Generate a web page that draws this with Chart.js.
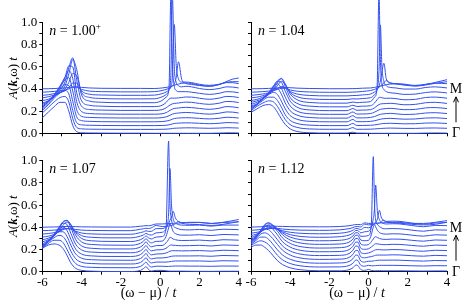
<!DOCTYPE html>
<html>
<head>
<meta charset="utf-8">
<script src="https://cdn.jsdelivr.net/npm/chart.js@4/dist/chart.umd.min.js"></script>
<style>
  body { margin: 0; background: #fff; }
  #wrap { position: relative; width: 463px; height: 304px; }
  canvas { position: absolute; left: 0; top: 0; }
</style>
</head>
<body>
<div id="wrap">
  <canvas id="c1" width="463" height="304"></canvas>
  <canvas id="c2" width="463" height="304"></canvas>
  <canvas id="c3" width="463" height="304"></canvas>
  <canvas id="c4" width="463" height="304"></canvas>
</div>
<script>
// frequency grids (omega - mu)/t for each filling
const w100 = [-6,-5.7,-5.4,-5.1,-4.85,-4.65,-4.45,-4.25,-4,-3.6,-3,-2,-1,
  -0.3,0.1,0.3,0.45,0.55,0.62,0.72,0.82,0.93,1.1,1.3,1.6,2,2.5,3,3.4,3.7,4];
const w104 = [-6,-5.7,-5.4,-5.1,-4.85,-4.65,-4.45,-4.25,-4,-3.6,-3,-2,
  -1.1,-0.8,-0.6,-0.3,
  0.1,0.3,0.43,0.53,0.6,0.68,0.78,0.9,1.1,1.4,1.8,2.4,2.9,3.4,4];
const w107 = [-6,-5.7,-5.4,-5.15,-4.95,-4.75,-4.55,-4.3,-4,-3.5,-2.5,-1.5,
  -1,-0.85,-0.72,-0.6,-0.45,-0.2,
  0.1,0.3,0.43,0.5,0.58,0.66,0.78,0.92,1.1,1.5,2,2.6,3.2,4];
const w112 = [-6,-5.75,-5.5,-5.3,-5.1,-4.9,-4.65,-4.4,-4,-3.5,-2.5,-1.5,
  -1,-0.8,-0.65,-0.55,-0.4,-0.2,
  0,0.14,0.24,0.3,0.36,0.45,0.55,0.64,0.74,0.9,1.2,1.6,2.2,2.8,3.4,4];

// A(k,w)t, one row per k from Gamma (first) to M (last)
const spec100 = [
  [0.14,0.19,0.24,0.28,0.28,0.2,0.07,0.015,0.005,0.003,0.002,0.001,0.001, 0,0,0,0,0,0,0,0,0,0,0,0,0,0,0.002,0.004,0.004,0.003],
  [0.15,0.2,0.25,0.29,0.3,0.25,0.1,0.02,0.007,0.004,0.003,0.002,0.002, 0.002,0.003,0.004,0.006,0.008,0.01,0.012,0.013,0.014,0.015,0.016,0.016,0.014,0.012,0.014,0.017,0.016,0.014],
  [0.14,0.19,0.25,0.3,0.32,0.29,0.14,0.03,0.01,0.006,0.004,0.003,0.003, 0.003,0.004,0.006,0.01,0.014,0.018,0.022,0.024,0.025,0.027,0.028,0.027,0.024,0.02,0.024,0.03,0.029,0.026],
  [0.12,0.17,0.23,0.3,0.34,0.33,0.19,0.05,0.015,0.008,0.005,0.004,0.004, 0.004,0.006,0.01,0.016,0.022,0.028,0.033,0.036,0.038,0.04,0.041,0.04,0.035,0.03,0.036,0.045,0.043,0.038],
  [0.1,0.15,0.21,0.29,0.35,0.37,0.25,0.08,0.02,0.01,0.007,0.005,0.005, 0.005,0.008,0.015,0.025,0.034,0.04,0.045,0.048,0.05,0.053,0.055,0.053,0.046,0.04,0.048,0.06,0.058,0.05],
  [0.08,0.12,0.18,0.26,0.34,0.4,0.33,0.12,0.03,0.012,0.008,0.006,0.006, 0.006,0.01,0.02,0.035,0.045,0.052,0.058,0.06,0.062,0.066,0.068,0.066,0.058,0.05,0.06,0.075,0.072,0.064],
  [0.06,0.09,0.14,0.21,0.3,0.41,0.4,0.17,0.045,0.015,0.01,0.007,0.007, 0.007,0.014,0.03,0.05,0.06,0.066,0.07,0.072,0.074,0.078,0.082,0.08,0.07,0.062,0.072,0.088,0.086,0.078],
  [0.04,0.06,0.1,0.15,0.23,0.36,0.45,0.25,0.06,0.02,0.012,0.008,0.008, 0.008,0.02,0.045,0.075,0.085,0.085,0.084,0.085,0.087,0.09,0.095,0.094,0.084,0.074,0.085,0.1,0.098,0.09],
  [0.03,0.04,0.07,0.1,0.16,0.27,0.4,0.31,0.08,0.025,0.014,0.01,0.01, 0.01,0.03,0.06,0.14,1.0,0.4,0.16,0.12,0.11,0.11,0.11,0.105,0.095,0.085,0.095,0.11,0.108,0.1],
  [0.02,0.03,0.045,0.065,0.1,0.16,0.24,0.22,0.07,0.025,0.015,0.011,0.011, 0.012,0.03,0.05,0.09,0.25,0.95,0.3,0.16,0.13,0.12,0.125,0.12,0.105,0.095,0.105,0.12,0.118,0.11],
  [0.01,0.015,0.025,0.035,0.05,0.08,0.12,0.12,0.05,0.02,0.013,0.01,0.01, 0.012,0.025,0.04,0.06,0.09,0.17,0.65,0.28,0.16,0.13,0.13,0.125,0.11,0.1,0.11,0.125,0.124,0.115],
  [0.005,0.008,0.012,0.017,0.025,0.035,0.05,0.05,0.03,0.015,0.01,0.008,0.008, 0.01,0.02,0.03,0.04,0.05,0.06,0.08,0.14,0.28,0.12,0.085,0.075,0.065,0.06,0.075,0.095,0.1,0.1],
  [0.002,0.003,0.005,0.007,0.01,0.014,0.02,0.02,0.015,0.01,0.007,0.006,0.006, 0.005,0.01,0.015,0.02,0.025,0.03,0.035,0.04,0.045,0.052,0.055,0.05,0.035,0.025,0.04,0.07,0.09,0.1]
];
const spec104 = [
  [0.19,0.22,0.25,0.26,0.24,0.19,0.13,0.08,0.04,0.015,0.005,0.002, 0.002,0.01,0.002,0.002, 0,0,0,0,0,0,0,0,0,0,0,0,0.002,0.003,0.002],
  [0.17,0.21,0.24,0.26,0.25,0.21,0.15,0.09,0.045,0.018,0.006,0.003, 0.003,0.018,0.003,0.003, 0.004,0.006,0.008,0.009,0.01,0.011,0.012,0.013,0.014,0.013,0.011,0.011,0.014,0.015,0.012],
  [0.15,0.19,0.23,0.26,0.26,0.23,0.17,0.1,0.05,0.02,0.007,0.003, 0.003,0.022,0.004,0.004, 0.006,0.009,0.013,0.016,0.018,0.02,0.022,0.023,0.024,0.022,0.019,0.02,0.026,0.027,0.022],
  [0.12,0.16,0.21,0.25,0.27,0.25,0.19,0.12,0.06,0.024,0.008,0.004, 0.004,0.025,0.005,0.005, 0.008,0.013,0.019,0.024,0.027,0.03,0.032,0.034,0.035,0.032,0.028,0.03,0.038,0.04,0.033],
  [0.1,0.13,0.18,0.23,0.27,0.27,0.22,0.14,0.07,0.028,0.009,0.004, 0.004,0.026,0.006,0.006, 0.01,0.018,0.027,0.034,0.038,0.041,0.043,0.045,0.047,0.043,0.037,0.04,0.05,0.053,0.045],
  [0.08,0.1,0.15,0.2,0.26,0.28,0.24,0.16,0.08,0.03,0.01,0.005, 0.005,0.026,0.007,0.008, 0.012,0.024,0.036,0.045,0.05,0.053,0.055,0.057,0.059,0.055,0.047,0.05,0.063,0.066,0.057],
  [0.06,0.08,0.11,0.16,0.23,0.27,0.26,0.18,0.09,0.032,0.011,0.005, 0.005,0.024,0.008,0.01, 0.014,0.03,0.048,0.06,0.065,0.067,0.068,0.069,0.071,0.067,0.058,0.062,0.076,0.08,0.07],
  [0.045,0.06,0.08,0.12,0.18,0.24,0.26,0.19,0.09,0.033,0.012,0.006, 0.006,0.02,0.009,0.012, 0.016,0.04,0.07,0.09,0.092,0.088,0.084,0.083,0.084,0.08,0.07,0.074,0.09,0.094,0.084],
  [0.03,0.04,0.06,0.09,0.13,0.19,0.23,0.18,0.09,0.033,0.012,0.006, 0.006,0.016,0.01,0.014, 0.02,0.06,0.14,1.0,0.4,0.18,0.13,0.11,0.1,0.095,0.085,0.088,0.102,0.108,0.098],
  [0.02,0.027,0.04,0.06,0.09,0.13,0.17,0.14,0.07,0.028,0.011,0.006, 0.006,0.012,0.01,0.015, 0.022,0.05,0.1,0.26,0.68,0.3,0.17,0.13,0.115,0.11,0.1,0.1,0.114,0.12,0.11],
  [0.01,0.015,0.022,0.033,0.05,0.07,0.09,0.08,0.045,0.02,0.009,0.005, 0.005,0.008,0.009,0.014, 0.022,0.04,0.06,0.09,0.14,0.22,0.3,0.16,0.12,0.115,0.105,0.1,0.11,0.12,0.115],
  [0.005,0.007,0.01,0.015,0.022,0.03,0.04,0.04,0.025,0.013,0.007,0.004, 0.004,0.006,0.007,0.012, 0.02,0.03,0.04,0.05,0.06,0.07,0.09,0.11,0.09,0.08,0.07,0.06,0.07,0.085,0.1],
  [0.002,0.003,0.004,0.006,0.008,0.011,0.014,0.015,0.012,0.008,0.005,0.003, 0.003,0.004,0.005,0.008, 0.01,0.015,0.02,0.024,0.027,0.03,0.034,0.04,0.045,0.048,0.045,0.03,0.04,0.06,0.085]
];
const spec107 = [
  [0.21,0.24,0.25,0.24,0.21,0.15,0.08,0.03,0.012,0.005,0.002,0.002, 0.012,0.028,0.045,0.022,0.006,0.012, 0.012,0.008,0.006,0.005,0.005,0.005,0.005,0.005,0.005,0.004,0.003,0.003,0.004,0.004],
  [0.18,0.22,0.25,0.25,0.23,0.17,0.1,0.04,0.015,0.006,0.003,0.002, 0.015,0.033,0.053,0.027,0.009,0.016, 0.016,0.014,0.014,0.015,0.016,0.017,0.018,0.018,0.018,0.017,0.017,0.015,0.018,0.017],
  [0.15,0.2,0.24,0.26,0.25,0.2,0.12,0.05,0.018,0.007,0.003,0.003, 0.017,0.037,0.059,0.031,0.012,0.02, 0.02,0.02,0.022,0.024,0.026,0.028,0.03,0.03,0.03,0.03,0.03,0.027,0.032,0.03],
  [0.12,0.17,0.22,0.26,0.26,0.22,0.14,0.06,0.022,0.008,0.004,0.003, 0.019,0.04,0.064,0.035,0.015,0.023, 0.024,0.027,0.032,0.036,0.039,0.041,0.042,0.042,0.042,0.042,0.043,0.039,0.046,0.043],
  [0.095,0.14,0.2,0.25,0.27,0.24,0.16,0.07,0.026,0.009,0.004,0.004, 0.021,0.043,0.067,0.039,0.018,0.026, 0.028,0.035,0.045,0.052,0.055,0.056,0.056,0.055,0.054,0.055,0.057,0.052,0.06,0.056],
  [0.07,0.11,0.17,0.23,0.27,0.26,0.18,0.08,0.03,0.01,0.005,0.004, 0.022,0.044,0.069,0.042,0.021,0.03, 0.032,0.045,0.062,0.072,0.074,0.072,0.07,0.068,0.067,0.068,0.071,0.065,0.074,0.07],
  [0.05,0.08,0.13,0.2,0.25,0.26,0.2,0.09,0.033,0.011,0.005,0.005, 0.023,0.044,0.069,0.044,0.024,0.035, 0.036,0.06,0.09,0.11,0.105,0.095,0.088,0.083,0.081,0.082,0.085,0.078,0.088,0.084],
  [0.035,0.055,0.09,0.15,0.21,0.23,0.19,0.095,0.035,0.012,0.006,0.005, 0.023,0.041,0.064,0.043,0.026,0.04, 0.042,0.085,0.16,0.2,0.17,0.13,0.11,0.1,0.096,0.096,0.1,0.092,0.102,0.098],
  [0.02,0.035,0.06,0.1,0.15,0.18,0.16,0.085,0.033,0.012,0.006,0.005, 0.022,0.037,0.055,0.04,0.028,0.045, 0.05,0.12,0.91,0.35,0.2,0.15,0.13,0.12,0.112,0.11,0.114,0.106,0.116,0.112],
  [0.012,0.02,0.035,0.06,0.09,0.11,0.1,0.06,0.025,0.01,0.005,0.005, 0.021,0.031,0.045,0.035,0.03,0.05, 0.055,0.09,0.22,0.63,0.3,0.18,0.14,0.125,0.12,0.118,0.12,0.11,0.12,0.12],
  [0.006,0.01,0.018,0.03,0.045,0.055,0.05,0.032,0.015,0.007,0.004,0.004, 0.019,0.026,0.035,0.03,0.03,0.055, 0.055,0.07,0.1,0.13,0.16,0.21,0.15,0.12,0.11,0.108,0.11,0.1,0.11,0.115],
  [0.003,0.005,0.008,0.012,0.018,0.022,0.02,0.014,0.008,0.005,0.003,0.003, 0.016,0.02,0.025,0.022,0.028,0.05, 0.04,0.042,0.045,0.047,0.05,0.055,0.065,0.085,0.07,0.06,0.058,0.05,0.06,0.085],
  [0.001,0.002,0.003,0.004,0.006,0.007,0.007,0.006,0.004,0.003,0.002,0.002, 0.01,0.012,0.015,0.014,0.018,0.03, 0.03,0.032,0.033,0.034,0.035,0.036,0.037,0.038,0.04,0.045,0.045,0.035,0.045,0.07]
];
const spec112 = [
  [0.22,0.24,0.24,0.22,0.19,0.15,0.1,0.065,0.035,0.018,0.008,0.008, 0.018,0.035,0.06,0.055,0.02,0.012, 0.02,0.012,0.01,0.009,0.009,0.009,0.009,0.009,0.008,0.008,0.008,0.008,0.007,0.006,0.007,0.007],
  [0.2,0.23,0.245,0.235,0.21,0.17,0.115,0.075,0.04,0.02,0.009,0.01, 0.022,0.043,0.072,0.068,0.025,0.016, 0.024,0.02,0.02,0.021,0.022,0.023,0.024,0.024,0.024,0.024,0.024,0.023,0.02,0.018,0.021,0.02],
  [0.18,0.215,0.245,0.245,0.225,0.185,0.13,0.085,0.045,0.022,0.01,0.012, 0.025,0.05,0.083,0.08,0.03,0.02, 0.028,0.028,0.03,0.032,0.034,0.036,0.037,0.037,0.037,0.037,0.038,0.037,0.032,0.029,0.034,0.032],
  [0.155,0.195,0.24,0.25,0.235,0.2,0.145,0.095,0.05,0.024,0.011,0.013, 0.028,0.056,0.092,0.09,0.035,0.025, 0.032,0.036,0.041,0.045,0.048,0.05,0.05,0.05,0.05,0.05,0.052,0.051,0.044,0.04,0.047,0.044],
  [0.13,0.17,0.225,0.25,0.245,0.21,0.155,0.1,0.053,0.026,0.012,0.014, 0.03,0.06,0.098,0.097,0.04,0.03, 0.036,0.045,0.054,0.06,0.064,0.066,0.065,0.064,0.063,0.063,0.066,0.065,0.057,0.051,0.06,0.057],
  [0.105,0.145,0.205,0.245,0.25,0.22,0.165,0.105,0.055,0.027,0.013,0.015, 0.032,0.062,0.1,0.1,0.045,0.035, 0.04,0.056,0.07,0.08,0.085,0.084,0.081,0.079,0.077,0.077,0.08,0.079,0.07,0.063,0.073,0.07],
  [0.08,0.115,0.175,0.225,0.24,0.215,0.165,0.105,0.055,0.027,0.013,0.016, 0.033,0.062,0.1,0.1,0.05,0.04, 0.045,0.07,0.095,0.11,0.115,0.108,0.1,0.095,0.092,0.091,0.094,0.093,0.083,0.075,0.086,0.083],
  [0.06,0.085,0.135,0.185,0.205,0.19,0.15,0.1,0.052,0.026,0.013,0.016, 0.033,0.06,0.095,0.095,0.052,0.046, 0.05,0.1,0.17,0.19,0.17,0.14,0.12,0.112,0.107,0.105,0.108,0.107,0.096,0.087,0.099,0.096],
  [0.04,0.06,0.095,0.135,0.155,0.15,0.12,0.083,0.045,0.023,0.012,0.016, 0.032,0.055,0.085,0.084,0.052,0.053, 0.06,0.16,0.77,0.35,0.2,0.16,0.14,0.13,0.122,0.12,0.122,0.12,0.108,0.098,0.11,0.108],
  [0.025,0.037,0.058,0.085,0.1,0.1,0.083,0.06,0.034,0.018,0.01,0.015, 0.03,0.048,0.072,0.071,0.05,0.06, 0.065,0.1,0.18,0.27,0.48,0.24,0.17,0.145,0.135,0.13,0.132,0.13,0.116,0.105,0.117,0.115],
  [0.013,0.02,0.03,0.045,0.055,0.056,0.048,0.036,0.022,0.013,0.008,0.013, 0.026,0.04,0.056,0.055,0.045,0.066, 0.062,0.075,0.09,0.1,0.11,0.14,0.22,0.16,0.13,0.12,0.122,0.12,0.105,0.095,0.105,0.11],
  [0.006,0.009,0.014,0.02,0.025,0.026,0.023,0.018,0.012,0.008,0.006,0.01, 0.021,0.03,0.04,0.04,0.036,0.062, 0.055,0.058,0.061,0.063,0.065,0.068,0.072,0.08,0.1,0.085,0.075,0.07,0.06,0.055,0.06,0.08],
  [0.002,0.003,0.005,0.007,0.009,0.01,0.009,0.008,0.006,0.005,0.004,0.007, 0.014,0.02,0.025,0.025,0.024,0.04, 0.035,0.036,0.037,0.037,0.038,0.038,0.039,0.04,0.041,0.042,0.045,0.044,0.035,0.035,0.045,0.06]
];
const fillings = ['1.00', '1.04', '1.07', '1.12'];
const pathEnds = ['M', 'Γ'];

const shift = 1 / 30;   // waterfall offset between neighbouring k
const blue = 'rgb(50,80,240)';
const serif = '"Liberation Serif", "DejaVu Serif", serif';

function curves(grid, rows) {
  return rows.map((row, i) => {
    if (row.length !== grid.length) throw new Error('row ' + i + ' has ' + row.length + ' values, grid ' + grid.length);
    return {
      data: row.map((v, j) => ({ x: grid[j], y: v + i * shift })),
      borderColor: blue,
      borderWidth: 1,
      pointRadius: 0,
      fill: false,
      cubicInterpolationMode: 'monotone',
      clip: false
    };
  });
}

function textWidth(ctx, parts) {
  let w = 0;
  for (const p of parts) {
    ctx.font = (p.s || '') + ' ' + (p.size || 14) + 'px ' + serif;
    w += ctx.measureText(p.t).width;
  }
  return w;
}
function drawParts(ctx, parts, x, y) {
  for (const p of parts) {
    ctx.font = (p.s || '') + ' ' + (p.size || 14) + 'px ' + serif;
    ctx.fillText(p.t, x, y + (p.dy || 0));
    x += ctx.measureText(p.t).width;
  }
}

const yTitle = [{ t: 'A', s: 'italic', size: 13 }, { t: '(', size: 13 }, { t: 'k', s: 'italic bold', size: 13 },
                { t: ',ω) ', size: 13 }, { t: 't', s: 'italic', size: 13 }];
const xTitle = [{ t: '(ω − μ) / ' }, { t: 't', s: 'italic' }];

function decor(cfg) {
  return {
    id: 'decor',
    afterDraw(chart) {
      const { ctx, chartArea: a } = chart;
      ctx.save();
      ctx.fillStyle = '#000';
      ctx.strokeStyle = '#000';
      ctx.textBaseline = 'alphabetic';
      ctx.textAlign = 'left';
      const tag = [{ t: 'n', s: 'italic' }, { t: ' = ' + cfg.n }];
      if (cfg.plus) tag.push({ t: '+', size: 9, dy: -6 });
      drawParts(ctx, tag, a.left + 7, a.top + 12);
      if (cfg.left) {
        ctx.save();
        ctx.translate(16.5, (a.top + a.bottom) / 2);
        ctx.rotate(-Math.PI / 2);
        drawParts(ctx, yTitle, -textWidth(ctx, yTitle) / 2, 0);
        ctx.restore();
      }
      if (cfg.bottom) {
        const cx = (a.left + a.right) / 2 + 8;
        drawParts(ctx, xTitle, cx - textWidth(ctx, xTitle) / 2, a.bottom + 25);
      }
      if (cfg.right) {
        const cx = a.right + 9;
        ctx.font = '14px ' + serif;
        ctx.textAlign = 'center';
        ctx.fillText(pathEnds[0], cx, a.bottom - 40);
        ctx.fillText(pathEnds[1], cx, a.bottom + 4);
        ctx.lineWidth = 1;
        ctx.beginPath();
        ctx.moveTo(cx, a.bottom - 11);
        ctx.lineTo(cx, a.bottom - 36);
        ctx.moveTo(cx - 2.5, a.bottom - 31);
        ctx.lineTo(cx, a.bottom - 36.5);
        ctx.lineTo(cx + 2.5, a.bottom - 31);
        ctx.stroke();
      }
      ctx.restore();
    }
  };
}

function xAxis(labels) {
  return {
    type: 'linear', min: -6, max: 4,
    ticks: {
      stepSize: 1, autoSkip: false, maxRotation: 0, padding: 0, color: '#000',
      font: { family: serif, size: 13 },
      callback: v => (labels && v % 2 === 0) ? String(v) : ''
    },
    grid: { drawOnChartArea: false, tickLength: 3, color: '#000' },
    border: { color: '#000', width: 1 },
    afterFit: s => { s.height = 22; }
  };
}
function yAxis(labels) {
  return {
    type: 'linear', min: 0, max: 1,
    ticks: {
      stepSize: 0.1, autoSkip: false, padding: 2, color: '#000',
      font: { family: serif, size: 13 },
      callback: v => { const t = Math.round(v * 10); return (labels && t % 2 === 0) ? (t / 10).toFixed(1) : ''; }
    },
    grid: { drawOnChartArea: false, tickLength: 3, color: '#000' },
    border: { color: '#000', width: 1 },
    afterFit: s => { s.width = 30; }
  };
}

const panels = [
  { id: 'c1', grid: w100, rows: spec100, n: fillings[0], plus: true, left: true,  bottom: false, right: false, box: [42.3, 238.7, 22.7, 133.3] },
  { id: 'c2', grid: w104, rows: spec104, n: fillings[1], plus: false, left: false, bottom: false, right: true, box: [251, 447, 22.7, 133.3] },
  { id: 'c3', grid: w107, rows: spec107, n: fillings[2], plus: false, left: true,  bottom: true,  right: false, box: [42.3, 238.7, 160.7, 271.7] },
  { id: 'c4', grid: w112, rows: spec112, n: fillings[3], plus: false, left: false, bottom: true,  right: true, box: [251, 447, 160.7, 271.7] }
];

for (const p of panels) {
  const [l, r, t, b] = p.box;
  new Chart(document.getElementById(p.id), {
    type: 'line',
    data: { datasets: curves(p.grid, p.rows) },
    options: {
      responsive: false,
      animation: false,
      devicePixelRatio: 1,
      layout: { padding: { left: l - 30, right: 463 - r, top: t, bottom: 304 - b - 22 } },
      plugins: { legend: { display: false }, tooltip: { enabled: false } },
      events: [],
      scales: { x: xAxis(p.bottom), y: yAxis(p.left) }
    },
    plugins: [decor(p)]
  });
}
</script>
</body>
</html>
